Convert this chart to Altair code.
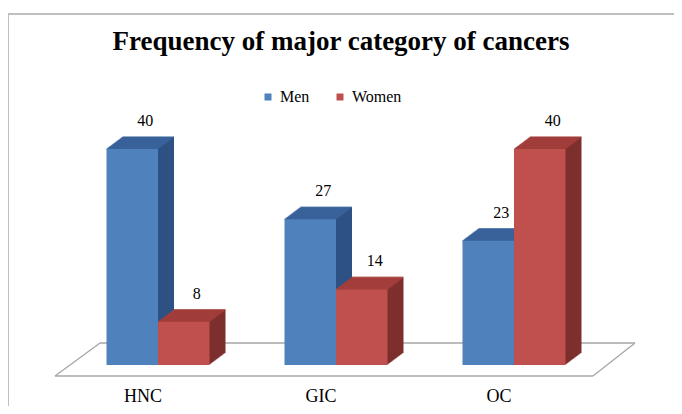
import altair as alt
import pandas as pd

# ---- data ----
categories = ["HNC", "GIC", "OC"]
series = ["Men", "Women"]
men_values = [40, 27, 23]
women_values = [8, 14, 40]
title_text = "Frequency of major category of  cancers"

# ---- styles ----
front_colors = ["#4F81BD", "#C0504D"]
top_colors = ["#3A659C", "#A6403D"]
side_colors = ["#2D5183", "#7D2F2D"]
FONT = "Liberation Serif"
W = 51.5          # bar width (px)
DX, DY = 16, 12   # 3-D depth offset (px)

rows = []
for s, vals in zip(series, [men_values, women_values]):
    for c, v in zip(categories, vals):
        rows.append({"category": c, "sex": s, "value": v})
df = pd.DataFrame(rows)
one = pd.DataFrame({"category": [categories[0]]})
cat_df = pd.DataFrame({"category": categories})

xscale = alt.Scale(domain=categories, range=[61, 595], paddingInner=0.4213, paddingOuter=0.2107)
yscale = alt.Scale(domain=[0, 40], range=[351, 135])


def X():
    return alt.X("category:N", scale=xscale, axis=None)


Y = alt.Y("value:Q", scale=yscale, axis=None)

legend = alt.Legend(title=None, orient="none", legendX=252, legendY=75, direction="horizontal",
                    symbolType="square", symbolSize=49, symbolStrokeWidth=0,
                    labelFont=FONT, labelFontSize=16, labelColor="black",
                    columnPadding=22, labelOffset=4, padding=0)

base = alt.Chart(df)
fb = alt.Chart(one)
layers = []

# frame (top and left border of the chart area)
layers.append(fb.mark_rule(color="#BFBFBF", strokeWidth=2).encode(y=alt.value(0)))
layers.append(fb.mark_rule(color="#BFBFBF", strokeWidth=2).encode(x=alt.value(0)))

# floor parallelogram
floor_color = "#A6A6A6"
x_first = alt.X(datum=categories[0], type="nominal", scale=xscale, axis=None)
x_last = alt.X(datum=categories[-1], type="nominal", scale=xscale, axis=None)
x2_first = alt.X2(datum=categories[0])
x2_last = alt.X2(datum=categories[-1])
y0 = alt.Y(datum=0, type="quantitative", scale=yscale, axis=None)
y20 = alt.Y2(datum=0)
layers.append(fb.mark_rule(color=floor_color, strokeWidth=1.3, xOffset=-103, x2Offset=79, yOffset=11)
              .encode(x=x_first, x2=x2_last, y=y0))
layers.append(fb.mark_rule(color=floor_color, strokeWidth=1.3, xOffset=-58, x2Offset=121, yOffset=-22)
              .encode(x=x_first, x2=x2_last, y=y0))
layers.append(fb.mark_rule(color=floor_color, strokeWidth=1.3, xOffset=-103, x2Offset=-58, yOffset=11, y2Offset=-22)
              .encode(x=x_first, x2=x2_first, y=y0, y2=y20))
layers.append(fb.mark_rule(color=floor_color, strokeWidth=1.3, xOffset=79, x2Offset=121, yOffset=11, y2Offset=-22)
              .encode(x=x_last, x2=x2_last, y=y0, y2=y20))

subs = []
for i, s in enumerate(series):
    sign = -1 if i == 0 else 1
    subs.append((i, sign * W / 2, base.transform_filter(alt.datum.sex == s)))

# extrusion (side faces)
for i, cx, sub in subs:
    for k in range(1, DX + 1):
        off = k * DY / DX
        layers.append(sub.mark_bar(width=W, color=side_colors[i], xOffset=cx + k,
                                   yOffset=-off, y2Offset=-off).encode(x=X(), y=Y))
# top faces
for i, cx, sub in subs:
    for k in range(0, DX + 1):
        off = k * DY / DX
        layers.append(sub.mark_tick(size=W, thickness=1.6, color=top_colors[i], xOffset=cx + k,
                                    yOffset=-off).encode(x=X(), y=Y))
# front faces
for i, cx, sub in subs:
    layers.append(sub.mark_bar(width=W, xOffset=cx).encode(
        x=X(), y=Y,
        color=alt.Color("sex:N", scale=alt.Scale(domain=series, range=front_colors), legend=legend)))
# value labels
for i, cx, sub in subs:
    layers.append(sub.mark_text(xOffset=cx, dx=13, dy=-28, font=FONT, fontSize=16, color="black",
                                baseline="middle").encode(x=X(), y=Y, text="value:Q"))

# category labels under the floor
layers.append(alt.Chart(cat_df).mark_text(dx=-15, dy=32, font=FONT, fontSize=18, color="black",
                                          baseline="middle")
              .encode(x=X(), y=y0, text="category:N"))

chart = alt.layer(*layers).properties(
    width=666, height=392,
    title=alt.TitleParams(title_text, font=FONT, fontSize=27, fontWeight="bold", color="black",
                          anchor="middle", baseline="alphabetic", dy=68),
    autosize=alt.AutoSizeParams(type="none"),
    padding={"left": 0, "top": 6, "right": 0, "bottom": 0},
).configure_view(stroke=None)

chart.save("out.html", embed_options={"renderer": "svg", "actions": False})
